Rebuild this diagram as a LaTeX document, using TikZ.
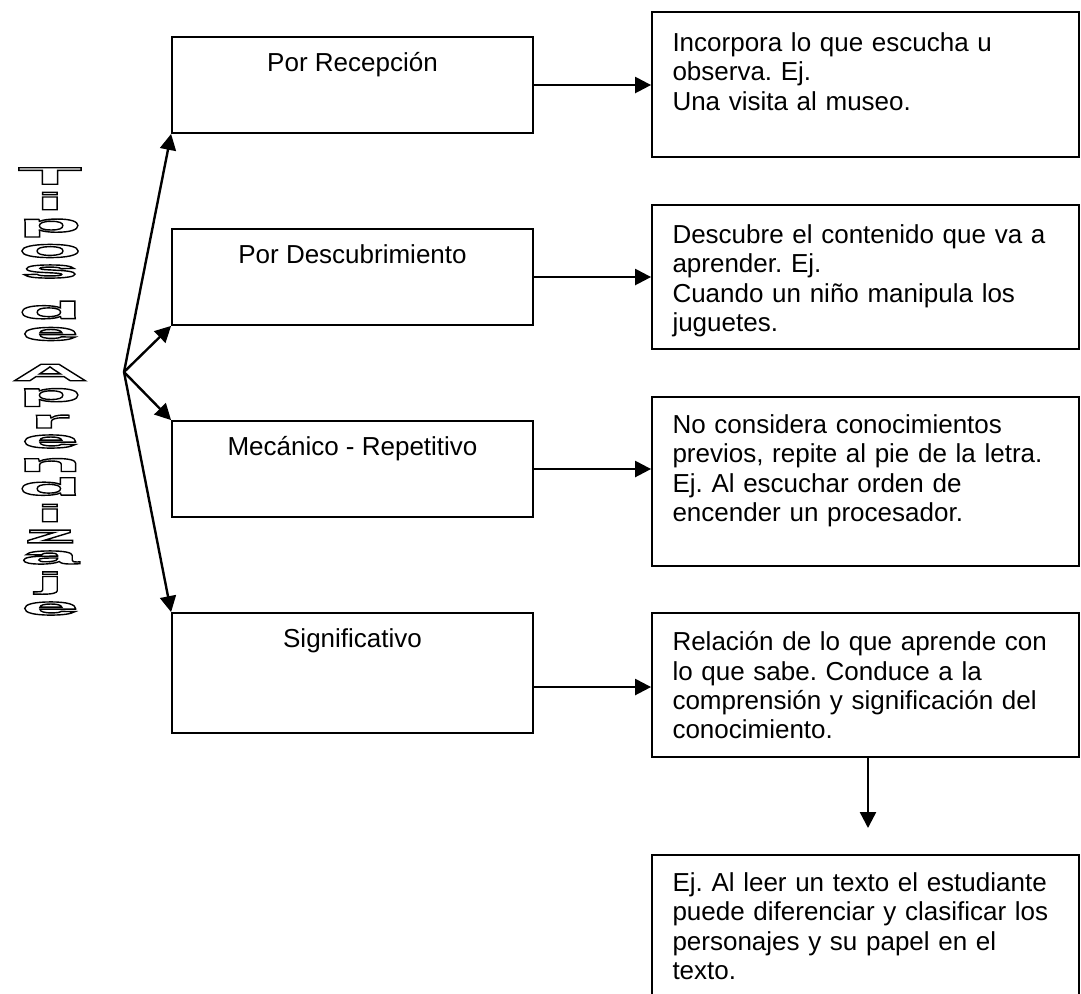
\documentclass[tikz,border=0pt]{standalone}
\usepackage{fontspec}
\setmainfont{Liberation Sans}
\newfontfamily\wafont[FakeStretch=4.4]{Liberation Sans}
\usetikzlibrary{arrows.meta}
\newcommand{\hollow}[1]{\special{pdf:literal direct 1 Tr 0.7 w}#1\special{pdf:literal direct 0 Tr}}
\frenchspacing

\begin{document}
\begin{tikzpicture}[x=0.5pt, y=-0.5pt]
\tikzstyle{lbox}=[rectangle, draw, line width=0.9pt, minimum width=180.5pt, minimum height=48pt, inner sep=0pt]
\tikzstyle{rbox}=[rectangle, draw, line width=0.9pt, minimum width=213.5pt, inner sep=0pt]
\tikzstyle{ltext}=[font=\fontsize{13pt}{14.7pt}\selectfont, inner sep=0pt, anchor=base]
\tikzstyle{rtext}=[font=\fontsize{13pt}{14.7pt}\selectfont, inner sep=0pt, align=left, text width=205pt, anchor=north west]
\tikzstyle{wa}=[font=\wafont\bfseries\fontsize{12pt}{12pt}\selectfont, inner sep=0pt]
\tikzstyle{drawstyle}=[line width=1.2pt, -{Triangle[length=8pt, width=8pt]}]
\useasboundingbox (0,0) rectangle (1081,993);

% titulo vertical
\foreach \l/\y in {T/176, i/201, p/228, o/251, s/271.5, d/310, e/334, A/372.5, p/397.5,
  r/421.5, e/441.5, n/465, d/486.5, i/513, z/536.5, a/557.5, j/583, e/608.5}
  \node[wa] (wa\y) at (50,\y) {\hollow{\l}};

% tipos
\coordinate (hub) at (124,372);
\node[lbox] (recep) at (352.5,85) {};
\node[ltext] (recepT) at ([yshift=-17.5pt]recep.north) {Por Recepción};
\node[lbox] (desc) at (352.5,277) {};
\node[ltext] (descT) at ([yshift=-17.5pt]desc.north) {Por Descubrimiento};
\node[lbox] (mec) at (352.5,469) {};
\node[ltext] (mecT) at ([yshift=-17.5pt]mec.north) {Mecánico - Repetitivo};
\node[lbox, minimum height=60pt] (sig) at (352.5,673) {};
\node[ltext] (sigT) at ([yshift=-17.5pt]sig.north) {Significativo};

\draw[drawstyle] (hub) -- (recep.south west);
\draw[drawstyle] (hub) -- (desc.south west);
\draw[drawstyle] (hub) -- (mec.north west);
\draw[drawstyle] (hub) -- (sig.north west);

% descripciones
\node[rbox, minimum height=72.5pt] (recepR) at (865.5,84.5) {};
\node[rtext] (recepRt) at ([xshift=10.5pt, yshift=-10.5pt]recepR.north west)
  {Incorpora lo que escucha u\\observa. Ej.\\Una visita al museo.};
\node[rbox, minimum height=72pt] (descR) at (865.5,277) {};
\node[rtext] (descRt) at ([xshift=10.5pt, yshift=-10pt]descR.north west)
  {Descubre el contenido que va a\\aprender. Ej.\\Cuando un niño manipula los\\juguetes.};
\node[rbox, minimum height=84.5pt] (mecR) at (865.5,481.5) {};
\node[rtext] (mecRt) at ([xshift=10.5pt, yshift=-9pt]mecR.north west)
  {No considera conocimientos\\previos, repite al pie de la letra.\\Ej. Al escuchar orden de\\encender un procesador.};
\node[rbox, minimum height=72pt] (sigR) at (865.5,685) {};
\node[rtext] (sigRt) at ([xshift=10.5pt, yshift=-9.5pt]sigR.north west)
  {Relación de lo que aprende con\\lo que sabe. Conduce a la\\comprensión y significación del\\conocimiento.};
\node[rbox, minimum height=80pt] (ejR) at (865.5,935) {};
\node[rtext] (ejRt) at ([xshift=10.5pt, yshift=-9pt]ejR.north west)
  {Ej. Al leer un texto el estudiante\\puede diferenciar y clasificar los\\personajes y su papel en el\\texto.};

\draw[drawstyle] (recep.east) -- (recep.east -| recepR.west);
\draw[drawstyle] (desc.east) -- (desc.east -| descR.west);
\draw[drawstyle] (mec.east) -- (mec.east -| mecR.west);
\draw[drawstyle] ([yshift=-7pt]sig.east) -- ([yshift=-7pt]sig.east -| sigR.west);
\coordinate (gap) at (868,828);
\draw[drawstyle] (sigR.south -| gap) -- (gap);
\end{tikzpicture}
\end{document}
